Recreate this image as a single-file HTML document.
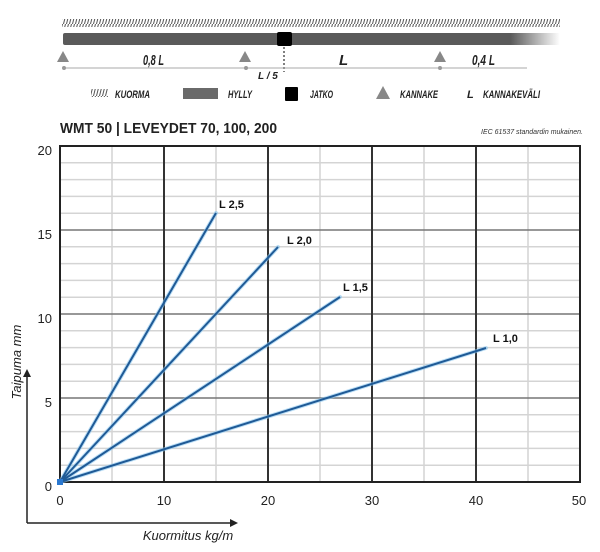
<!DOCTYPE html>
<html><head><meta charset="utf-8"><style>
html,body{margin:0;padding:0;background:#fff;width:600px;height:552px;overflow:hidden}
svg{display:block}
.c{font-family:"Liberation Sans",sans-serif;font-style:italic;font-weight:bold;font-size:11px;fill:#222}
.t{font-family:"Liberation Sans",sans-serif;font-size:13px;fill:#222}
.l{font-family:"Liberation Sans",sans-serif;font-weight:bold;font-size:11px;fill:#111}
</style></head><body>
<svg width="600" height="552" viewBox="0 0 600 552" xmlns="http://www.w3.org/2000/svg">
<defs>
<pattern id="h" width="3" height="8" patternUnits="userSpaceOnUse"><line x1="2.5" y1="0" x2="0.5" y2="8" stroke="#555" stroke-width="1"/></pattern>
<linearGradient id="g" x1="0" x2="1"><stop offset="0" stop-color="#5a5a5a"/><stop offset="0.9" stop-color="#5a5a5a"/><stop offset="1" stop-color="#5a5a5a" stop-opacity="0"/></linearGradient>
</defs>
<rect x="62" y="19" width="498" height="8" fill="url(#h)"/>
<rect x="63" y="33" width="497" height="12" rx="2" fill="url(#g)"/>
<rect x="277" y="32" width="15" height="14" rx="2" fill="#000"/>
<line x1="284" y1="47" x2="284" y2="72" stroke="#000" stroke-dasharray="2,2"/>
<g fill="#888"><polygon points="63,51 57,62 69,62"/><polygon points="245,51 239,62 251,62"/><polygon points="440,51 434,62 446,62"/></g>
<line x1="63" y1="68" x2="527" y2="68" stroke="#aaa"/>
<g fill="#999"><circle cx="64" cy="68" r="2"/><circle cx="246" cy="68" r="2"/><circle cx="440" cy="68" r="2"/></g>
<text class="c" x="143" y="65" style="font-size:15px" textLength="21" lengthAdjust="spacingAndGlyphs">0,8 L</text>
<text class="c" x="339" y="65" style="font-size:15px">L</text>
<text class="c" x="472" y="65" style="font-size:15px" textLength="23" lengthAdjust="spacingAndGlyphs">0,4 L</text>
<text class="c" x="258" y="79" style="font-size:10px">L / 5</text>
<rect x="91" y="89" width="17" height="8" fill="url(#h)"/>
<text class="c" x="115" y="98" textLength="35" lengthAdjust="spacingAndGlyphs">KUORMA</text>
<rect x="183" y="88" width="35" height="11" fill="#6a6a6a"/>
<text class="c" x="228" y="98" textLength="24" lengthAdjust="spacingAndGlyphs">HYLLY</text>
<rect x="285" y="87" width="13" height="14" rx="1" fill="#000"/>
<text class="c" x="310" y="98" textLength="23" lengthAdjust="spacingAndGlyphs">JATKO</text>
<polygon points="383,86 376,99 390,99" fill="#888"/>
<text class="c" x="400" y="98" textLength="38" lengthAdjust="spacingAndGlyphs">KANNAKE</text>
<text class="c" x="467" y="98">L</text>
<text class="c" x="483" y="98" textLength="57" lengthAdjust="spacingAndGlyphs">KANNAKEVÄLI</text>
<text x="60" y="133" font-family="'Liberation Sans',sans-serif" font-weight="bold" font-size="15" fill="#222" textLength="217" lengthAdjust="spacingAndGlyphs">WMT 50 | LEVEYDET 70, 100, 200</text>
<text x="583" y="134" text-anchor="end" font-family="'Liberation Sans',sans-serif" font-style="italic" font-size="7" fill="#333">IEC 61537 standardin mukainen.</text>
<g stroke="#d4d4d4" stroke-width="1.5">
<line x1="60" y1="465.2" x2="580" y2="465.2"/><line x1="60" y1="448.4" x2="580" y2="448.4"/><line x1="60" y1="431.6" x2="580" y2="431.6"/><line x1="60" y1="414.8" x2="580" y2="414.8"/>
<line x1="60" y1="381.2" x2="580" y2="381.2"/><line x1="60" y1="364.4" x2="580" y2="364.4"/><line x1="60" y1="347.6" x2="580" y2="347.6"/><line x1="60" y1="330.8" x2="580" y2="330.8"/>
<line x1="60" y1="297.2" x2="580" y2="297.2"/><line x1="60" y1="280.4" x2="580" y2="280.4"/><line x1="60" y1="263.6" x2="580" y2="263.6"/><line x1="60" y1="246.8" x2="580" y2="246.8"/>
<line x1="60" y1="213.2" x2="580" y2="213.2"/><line x1="60" y1="196.4" x2="580" y2="196.4"/><line x1="60" y1="179.6" x2="580" y2="179.6"/><line x1="60" y1="162.8" x2="580" y2="162.8"/>
<line x1="112" y1="146" x2="112" y2="482"/><line x1="216" y1="146" x2="216" y2="482"/><line x1="320" y1="146" x2="320" y2="482"/><line x1="424" y1="146" x2="424" y2="482"/><line x1="528" y1="146" x2="528" y2="482"/>
</g>
<g stroke="#777" stroke-width="1.5"><line x1="60" y1="398" x2="580" y2="398"/><line x1="60" y1="314" x2="580" y2="314"/><line x1="60" y1="230" x2="580" y2="230"/></g>
<g stroke="#333" stroke-width="2"><line x1="164" y1="146" x2="164" y2="482"/><line x1="268" y1="146" x2="268" y2="482"/><line x1="372" y1="146" x2="372" y2="482"/><line x1="476" y1="146" x2="476" y2="482"/></g>
<rect x="60" y="146" width="520" height="336" fill="none" stroke="#222" stroke-width="2"/>
<g stroke="#8cc8f0" stroke-width="4" stroke-linecap="round" opacity="0.6">
<line x1="60" y1="482" x2="216" y2="213"/><line x1="60" y1="482" x2="278" y2="247"/><line x1="60" y1="482" x2="340" y2="297"/><line x1="60" y1="482" x2="486" y2="348"/></g>
<g stroke="#1f5a96" stroke-width="2">
<line x1="60" y1="482" x2="216" y2="213"/><line x1="60" y1="482" x2="278" y2="247"/><line x1="60" y1="482" x2="340" y2="297"/><line x1="60" y1="482" x2="486" y2="348"/></g>
<rect x="57" y="479" width="6" height="6" fill="#2a78d0"/>
<text class="l" x="219" y="208">L 2,5</text>
<text class="l" x="287" y="244">L 2,0</text>
<text class="l" x="343" y="291">L 1,5</text>
<text class="l" x="493" y="342">L 1,0</text>
<g class="t" text-anchor="end"><text x="52" y="155">20</text><text x="52" y="239">15</text><text x="52" y="323">10</text><text x="52" y="407">5</text><text x="52" y="491">0</text></g>
<g class="t" text-anchor="middle"><text x="60" y="505">0</text><text x="164" y="505">10</text><text x="268" y="505">20</text><text x="372" y="505">30</text><text x="476" y="505">40</text><text x="579" y="505">50</text></g>
<line x1="27" y1="523" x2="27" y2="375" stroke="#222" stroke-width="1.5"/>
<polygon points="27,369 23,377 31,377" fill="#222"/>
<line x1="27" y1="523" x2="232" y2="523" stroke="#222" stroke-width="1.5"/>
<polygon points="238,523 230,519 230,527" fill="#222"/>
<text x="188" y="540" text-anchor="middle" font-family="'Liberation Sans',sans-serif" font-style="italic" font-size="13" fill="#222">Kuormitus kg/m</text>
<text transform="translate(21,362) rotate(-90)" text-anchor="middle" font-family="'Liberation Sans',sans-serif" font-style="italic" font-size="13" fill="#222">Taipuma mm</text>
</svg>
</body></html>
